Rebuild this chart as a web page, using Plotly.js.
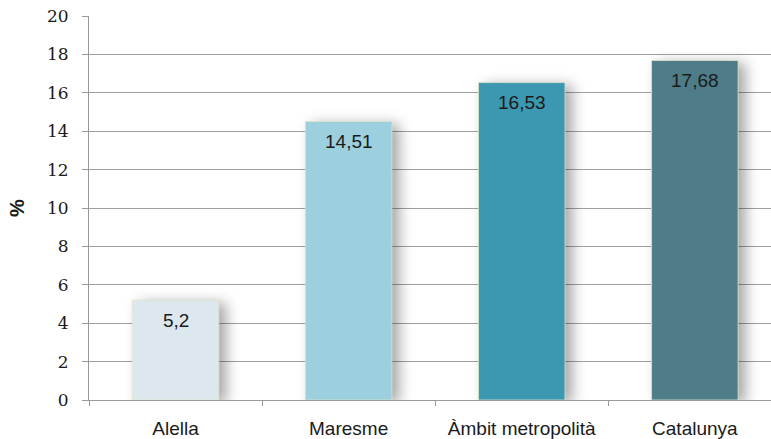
<!DOCTYPE html>
<html>
<head>
<meta charset="utf-8">
<script src="https://cdn.plot.ly/plotly-3.0.1.min.js"></script>
<style>
html,body{margin:0;padding:0;background:#fff;}
#chart{width:771px;height:439px;}
.barlayer .point path{filter:drop-shadow(7px 3px 7px rgba(0,0,0,0.35));}
#chart .ytick text{font-family:'DejaVu Serif',serif !important;font-size:17px !important;}
</style>
</head>
<body>
<div id="chart"></div>
<script>
const categories = ["Alella", "Maresme", "Àmbit metropolità", "Catalunya"];
const values = [5.2, 14.51, 16.53, 17.68];
const barColors = ["#dce8ee", "#9dd0df", "#3c97b1", "#4e7c88"];
const yTickStep = 2;
const yMax = 20;

const labels = values.map(v => String(v).replace(".", ","));

const trace = {
  type: "bar",
  x: categories,
  y: values,
  width: 0.5,
  marker: {color: barColors, line: {color: "rgba(220,230,200,0.8)", width: 1}},
  hoverinfo: "none"
};

const annotations = categories.map((c, i) => ({
  x: c, y: values[i], xref: "x", yref: "y",
  text: labels[i], showarrow: false,
  yanchor: "middle", yshift: -20,
  font: {family: "Liberation Sans", size: 19, color: "#1a1a1a"}
}));

const layout = {
  width: 771, height: 439,
  margin: {l: 89, r: 0, t: 16, b: 39},
  paper_bgcolor: "#fff", plot_bgcolor: "#fff",
  showlegend: false,
  font: {family: "Liberation Sans", size: 19, color: "#1a1a1a"},
  xaxis: {
    type: "category",
    range: [-0.5, 3.44],
    tickson: "boundaries",
    ticks: "outside", ticklen: 5, tickcolor: "#999",
    showline: true, linecolor: "#999", linewidth: 1,
    showgrid: false, zeroline: false,
    tickfont: {family: "Liberation Sans", size: 19, color: "#1a1a1a"},
    ticklabelstandoff: 11
  },
  yaxis: {
    range: [0, yMax],
    autorange: false,
    tickmode: "linear", tick0: 0, dtick: yTickStep,
    ticks: "outside", ticklen: 6, tickcolor: "#999",
    showline: true, linecolor: "#999", linewidth: 1,
    showgrid: true, gridcolor: "#a0a0a0", gridwidth: 1,
    zeroline: false,
    ticklabelstandoff: 10,
    tickfont: {family: "DejaVu Serif", size: 17, color: "#1a1a1a"},
    title: {text: "<b>%</b>", standoff: 16, font: {family: "Liberation Sans", size: 20, color: "#1a1a1a"}}
  },
  annotations: annotations
};

Plotly.newPlot("chart", [trace], layout, {displayModeBar: false, staticPlot: true});
</script>
</body>
</html>
